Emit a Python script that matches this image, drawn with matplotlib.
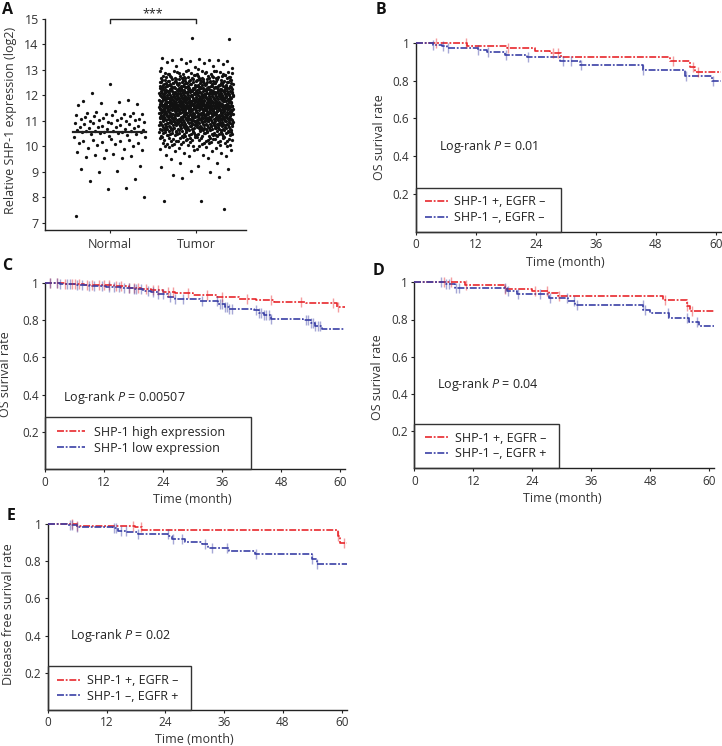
import matplotlib
matplotlib.use('Agg')
import matplotlib.pyplot as plt
import numpy as np
from matplotlib.patches import Rectangle

plt.rcParams['font.family'] = ['Open Sans', 'DejaVu Sans']
plt.rcParams['mathtext.fontset'] = 'custom'
plt.rcParams['mathtext.it'] = 'Open Sans:italic'
plt.rcParams['mathtext.rm'] = 'Open Sans'
plt.rcParams['lines.scale_dashes'] = False

# ---------------- Panel A data ----------------
groups = ['Normal', 'Tumor']
normal_vals = [12.45, 12.08, 11.82, 11.78, 11.76, 11.72, 11.65, 11.62, 11.4, 11.37, 11.32, 11.3,
               11.28, 11.28, 11.27, 11.25, 11.22, 11.2, 11.18, 11.15, 11.12, 11.1, 11.08, 11.07,
               11.05, 11.03, 11.02, 11.0, 10.98, 10.97, 10.95, 10.93, 10.9, 10.9, 10.88, 10.86,
               10.84, 10.82, 10.8, 10.78, 10.76, 10.75, 10.73, 10.72, 10.7, 10.68, 10.66, 10.64,
               10.62, 10.61, 10.6, 10.59, 10.58, 10.57, 10.56, 10.55, 10.54, 10.52, 10.5, 10.48,
               10.45, 10.42, 10.38, 10.35, 10.3, 10.27, 10.25, 10.22, 10.2, 10.18, 10.15, 10.12,
               10.1, 10.05, 10.0, 9.95, 9.9, 9.87, 9.85, 9.8, 9.72, 9.67, 9.62, 9.58, 9.55, 9.53,
               9.24, 9.11, 9.04, 9.0, 8.73, 8.66, 8.36, 8.32, 8.03, 7.25]
normal_mean = 10.55
tumor_low_tail = [7.56, 7.84, 7.86, 8.78, 8.80, 8.87, 8.99, 9.05, 9.10, 9.18, 9.24, 9.34, 9.36,
                  9.50, 9.55, 9.63, 9.64, 9.67, 9.68, 9.73, 9.76, 9.81, 9.83, 9.84, 9.86, 9.89,
                  9.90, 9.93, 9.95, 9.97, 9.99]
tumor_high_tail = [14.24, 14.21, 13.46, 13.44, 13.42, 13.40, 13.39, 13.38, 13.35, 13.34, 13.32,
                   13.28, 13.26, 13.22, 13.17, 13.15, 13.12, 13.08, 13.06, 13.03]
# counts of tumour points per 0.2-wide band (dense core, read from point density)
tumor_core_lo = [10.0, 10.2, 10.4, 10.6, 10.8, 11.0, 11.2, 11.4, 11.6, 11.8, 12.0, 12.2, 12.4, 12.6, 12.8]
tumor_core_n = [20, 30, 42, 58, 72, 82, 88, 92, 92, 88, 82, 70, 56, 40, 24]
tumor_mean = 11.6
sig_label = '***'

# ---------------- KM data ----------------
B_red_t = [0, 10.2, 18.3, 23.9, 26.9, 29.0, 50.8, 54.9, 55.9]
B_red_s = [1.0, 0.985, 0.973, 0.958, 0.945, 0.926, 0.904, 0.874, 0.844]
B_red_c = [4.0, 10.0, 18.5, 27.5, 28.5, 51.5, 55.5, 56.5]
B_blue_t = [0, 3.5, 5.2, 6.2, 12.5, 14.2, 17.9, 22.2, 28.9, 32.9, 45.5, 53.9, 59.2]
B_blue_s = [1.0, 0.99, 0.98, 0.971, 0.962, 0.95, 0.936, 0.922, 0.904, 0.883, 0.856, 0.826, 0.795]
B_blue_c = [3.5, 5.5, 6.5, 12.5, 14.5, 18.0, 22.5, 29.5, 31.0, 33.0, 45.5, 54.0, 59.5]

C_red_t = [0, 4, 8, 11, 14, 17, 19.5, 21.5, 24, 26.5, 30, 35, 39.5, 43, 46.5, 53, 59.3]
C_red_s = [1.0, 0.995, 0.99, 0.985, 0.98, 0.974, 0.968, 0.96, 0.952, 0.943, 0.935, 0.925,
           0.912, 0.905, 0.898, 0.889, 0.871]
C_red_c = [1, 2.5, 4, 5.5, 6, 7, 8.5, 9.5, 11, 12, 13, 14.5, 15.5, 17, 18, 19, 20.5, 22, 23,
           25, 26, 29, 33, 36, 41, 46, 52, 58.5, 59.5]
C_blue_t = [0, 3, 6, 9, 12.5, 15.5, 18, 20, 21.5, 23, 25, 26.5, 31.5, 35.2, 36.5, 37.5, 42.5,
            43.5, 44.5, 46, 52.5, 54, 55, 56.3]
C_blue_s = [1.0, 0.995, 0.99, 0.984, 0.978, 0.972, 0.966, 0.958, 0.950, 0.938, 0.925, 0.912,
            0.902, 0.885, 0.870, 0.860, 0.852, 0.838, 0.826, 0.808, 0.798, 0.785, 0.770, 0.752]
C_blue_c = [1, 2.5, 3, 4.5, 5, 6.5, 7.5, 9, 10, 11.5, 13, 14, 15, 16, 17, 18, 18.5, 19.5, 21,
            22, 23, 24, 25.5, 26.5, 28, 32, 35, 35.5, 36, 36.5, 37, 37.5, 38, 43, 43.5, 44,
            44.5, 45, 45.5, 46, 53, 53.5, 54, 54.5, 55, 55.5, 56]

D_red_t = [0, 10.3, 18.4, 23.9, 27.3, 29.3, 50.6, 55.4, 56.1]
D_red_s = [1.0, 0.984, 0.966, 0.954, 0.94, 0.926, 0.905, 0.872, 0.846]
D_red_c = [6, 7.5, 10.5, 18.5, 24.5, 27, 29.5, 51, 55.5, 56.5]
D_blue_t = [0, 6.5, 8.3, 18.8, 20.8, 27.3, 31.3, 32.7, 46.6, 47.9, 51.7, 55.8, 57.8]
D_blue_s = [1.0, 0.99, 0.971, 0.953, 0.935, 0.918, 0.9, 0.878, 0.851, 0.833, 0.81, 0.788, 0.765]
D_blue_c = [5.5, 6.5, 7, 8.5, 9, 18.5, 19, 21, 25.5, 27.5, 31, 32.5, 33, 46.5, 47, 51.5,
            55.5, 57.5]

E_red_t = [0, 5.9, 17.8, 19.2, 59.2, 59.6]
E_red_s = [1.0, 0.989, 0.982, 0.968, 0.935, 0.90]
E_red_c = [5, 6, 17.5, 19, 59.3, 60.5]
E_blue_t = [0, 3.9, 5.9, 13.4, 14.4, 16.1, 18.5, 24.6, 25.3, 28, 31.4, 32.8, 36.9, 42.3, 53.9, 54.9]
E_blue_s = [1.0, 0.995, 0.986, 0.977, 0.964, 0.955, 0.946, 0.935, 0.918, 0.905, 0.89, 0.873,
            0.857, 0.839, 0.81, 0.785]
E_blue_c = [4.5, 5, 6, 13.5, 14, 15, 16, 18.5, 24.5, 25.5, 27.5, 32, 33.5, 36.5, 42.5, 54, 55]

lab_pos_neg = ['SHP-1 +, EGFR \u2013', 'SHP-1 \u2013, EGFR \u2013']
lab_pos_pos = ['SHP-1 +, EGFR \u2013', 'SHP-1 \u2013, EGFR +']
lab_expr = ['SHP-1 high expression', 'SHP-1 low expression']
p_B, p_C, p_D, p_E = '0.01', '0.00507', '0.04', '0.02'

x_ticks = [0, 12, 24, 36, 48, 60]
y_ticks = [0.2, 0.4, 0.6, 0.8, 1.0]
y_ticklabels = ['0.2', '0.4', '0.6', '0.8', '1']

RED = '#e8272c'
BLUE = '#3a3fa6'
INK = '#222222'
DASH = (0, (5.0, 1.3, 1.3, 1.3))


def halton(i, b):
    f, r = 1.0, 0.0
    while i > 0:
        f /= b
        r += f * (i % b)
        i //= b
    return r


def style(ax, fs):
    for s in ['top', 'right']:
        ax.spines[s].set_visible(False)
    for s in ['left', 'bottom']:
        ax.spines[s].set_color(INK)
        ax.spines[s].set_linewidth(1.0)
    ax.tick_params(direction='out', length=2.5, width=0.8, labelsize=fs, pad=2,
                   color=INK, labelcolor='#333333')


fig = plt.figure(figsize=(7.22, 7.46), dpi=100)
W, H = 722.0, 746.0


def rect(l, r, t, b):
    return [l / W, 1 - b / H, (r - l) / W, (b - t) / H]


# ---------------- Panel A ----------------
axA = fig.add_axes(rect(45, 246, 19, 230))
style(axA, 9)
nv = np.array(normal_vals)
nx = np.array([0 + (halton(i + 1, 2) - 0.5) * 0.84 for i in range(len(nv))])
axA.scatter(nx, nv, s=5.5, color='#111111', linewidths=0, zorder=3)
core = []
for lo, n in zip(tumor_core_lo, tumor_core_n):
    core += [lo + 0.2 * halton(k + 1, 3) for k in range(n)]
tv = np.array(tumor_low_tail + core + tumor_high_tail)
tx = np.array([1 + (halton(i + 7, 2) - 0.5) * 0.86 for i in range(len(tv))])
axA.scatter(tx, tv, s=5.5, color='#111111', linewidths=0, zorder=3)
axA.plot([-0.43, 0.42], [normal_mean, normal_mean], color='#222222', lw=1.6, zorder=4)
axA.plot([0.58, 1.42], [tumor_mean, tumor_mean], color='#222222', lw=1.6, zorder=2)
axA.set_xlim(-0.756, 1.581)
axA.set_ylim(6.72, 15.0)
axA.set_yticks(range(7, 16))
axA.set_xticks([0, 1])
axA.set_xticklabels(groups)
axA.tick_params(axis='x', pad=3)
axA.set_ylabel('Relative SHP-1 expression (log2)', fontsize=9, color='#333333')
axA.yaxis.set_label_coords(-0.14, 0.52)
axA.plot([0, 0, 1, 1], [14.84, 15.0, 15.0, 14.84], color=INK, lw=1.0, clip_on=False)
axA.text(0.5, 14.93, sig_label, ha='center', va='bottom', fontsize=9, color=INK)


# ---------------- KM panels ----------------
def km(ax, series, labels, box, ptext, ppos, ylabel, leg_anchor, hl, htp, lsp, ylab_x, ylab_y, fs_leg=9):
    style(ax, 8.5)
    handles = []
    for t, s, c, col in series:
        tt = list(t) + [61]
        ss = list(s) + [s[-1]]
        ln, = ax.step(tt, ss, where='post', color=col, lw=1.2, linestyle=DASH,
                      clip_on=False, zorder=3)
        handles.append(ln)
        t_arr = np.array(t)
        cy = [s[np.searchsorted(t_arr, ci, side='right') - 1] for ci in c]
        ax.plot(c, cy, linestyle='none', marker='|', markersize=7, mew=1.0,
                color=col, alpha=0.45, clip_on=False, zorder=4)
    ax.set_xlim(0, 61)
    ax.set_ylim(0, 1)
    ax.set_xticks(x_ticks)
    ax.set_yticks(y_ticks)
    ax.set_yticklabels(y_ticklabels)
    ax.set_xlabel('Time (month)', fontsize=9, color='#333333')
    ax.xaxis.set_label_coords(30 / 61, -0.125)
    ax.set_ylabel(ylabel, fontsize=9, color='#333333')
    ax.yaxis.set_label_coords(ylab_x, ylab_y)
    ax.add_patch(Rectangle((0, 0), box[0], box[1], fill=False, edgecolor='#333333',
                           lw=1.0, zorder=5, clip_on=False))
    ax.text(ppos[0], ppos[1], 'Log-rank $P$ = ' + ptext, fontsize=9, color='#222222',
            ha='left', va='center')
    leg = ax.legend(handles, labels, loc='center left', bbox_to_anchor=leg_anchor,
                    frameon=False, fontsize=fs_leg, handlelength=hl, handletextpad=htp,
                    labelspacing=lsp, borderpad=0, borderaxespad=0)
    for txt in leg.get_texts():
        txt.set_color('#222222')


axB = fig.add_axes(rect(415.7, 720.7, 42.7, 231.9))
km(axB, [(B_red_t, B_red_s, B_red_c, RED), (B_blue_t, B_blue_s, B_blue_c, BLUE)],
   lab_pos_neg, (29, 0.23), p_B, (4.7, 0.45), 'OS surival rate',
   (1.9 / 61, 0.1175), 1.85, 0.45, 0.2, -0.097, 0.5)

axC = fig.add_axes(rect(45, 345, 282.7, 469.3))
km(axC, [(C_red_t, C_red_s, C_red_c, RED), (C_blue_t, C_blue_s, C_blue_c, BLUE)],
   lab_expr, (41.8, 0.28), p_C, (3.7, 0.383), 'OS surival rate',
   (2.4 / 61, 0.156), 2.25, 0.7, 0.25, -0.11, 0.508)

axD = fig.add_axes(rect(414.3, 714.3, 282.3, 468.3))
km(axD, [(D_red_t, D_red_s, D_red_c, RED), (D_blue_t, D_blue_s, D_blue_c, BLUE)],
   lab_pos_pos, (29.4, 0.236), p_D, (4.7, 0.453), 'OS surival rate',
   (2.2 / 61, 0.12), 1.95, 0.45, 0.2, -0.101, 0.49)

axE = fig.add_axes(rect(47.7, 346.6, 524, 710))
km(axE, [(E_red_t, E_red_s, E_red_c, RED), (E_blue_t, E_blue_s, E_blue_c, BLUE)],
   lab_pos_pos, (29.2, 0.236), p_E, (4.55, 0.403), 'Disease free surival rate',
   (1.8 / 61, 0.116), 1.95, 0.45, 0.2, -0.109, 0.516)

# panel letters
for letter, (px, py) in zip('ABCDE', [(2, 2), (376, 2), (2, 258), (373, 263), (7, 508)]):
    fig.text(px / W, 1 - py / H, letter, fontsize=11.5, fontweight='bold', color='#111111',
             ha='left', va='top')

fig.savefig('out.png', dpi=100)
